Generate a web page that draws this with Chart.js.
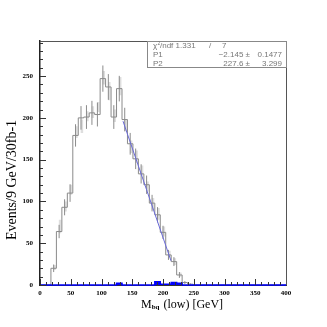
<!DOCTYPE html>
<html>
<head>
<meta charset="utf-8">
<script src="https://cdn.jsdelivr.net/npm/chart.js@4.4.0/dist/chart.umd.min.js"></script>
<style>
  html, body { margin: 0; padding: 0; background: #fff; }
</style>
</head>
<body>
<canvas id="myChart" width="327" height="327"></canvas>
<script>
// 45 bins of 400/45 GeV between 0 and 400
const binWidth = 400 / 45;

// events per bin, gray histogram
const events = [0, 0, 20, 64, 93, 110, 179, 200, 201, 206,
  204, 247, 237, 201, 235, 198, 169, 151, 133, 120,
  98, 84, 63, 36, 28, 12, 3, 1, 0, 0,
  0, 0, 0, 0, 0, 0, 0, 0, 0, 0,
  0, 0, 0, 0, 0];

// statistical error per bin
const errors = [0, 0, 4.5, 8, 9.6, 10.5, 13.4, 14.1, 14.2, 14.4,
  14.3, 15.7, 15.4, 14.2, 15.3, 14.1, 13, 12.3, 11.5, 11,
  9.9, 9.2, 7.9, 6, 5.3, 3.5, 1.7, 1, 0, 0,
  0, 0, 0, 0, 0, 0, 0, 0, 0, 0,
  0, 0, 0, 0, 0];

// light gray bands (second error set), low / high, bins 2..25
const bandLow = [18, 62, 88, 108, 176, 182, 196, 200, 207, 240, 221, 195, 227, 184, 158, 146, 131, 112, 90, 78, 58, 33, 24, 10];
const bandHigh = [24, 78, 100, 120, 190, 198, 208, 214, 219, 256, 243, 210, 249, 198, 173, 161, 143, 124, 104, 92, 70, 41, 32, 15];

// blue filled histogram
const signal = [0, 0, 0, 0, 0, 0, 0, 0, 0, 0,
  0, 0, 0, 0, 2, 0, 0, 0, 0, 0,
  0, 4, 1, 1, 3, 2, 0, 0, 0, 0,
  0, 0, 0, 0, 0, 0, 0, 0, 0, 0,
  0, 0, 0, 0, 0];

// straight line fit
const fitX = [135, 213];
const fitY = [196, 29];

const xTicks = [0, 50, 100, 150, 200, 250, 300, 350, 400];
const yTicks = [0, 50, 100, 150, 200, 250];

function stepPoints(values) {
  const pts = values.map((v, k) => ({ x: k * binWidth, y: v }));
  pts.push({ x: 400, y: values[values.length - 1] });
  return pts;
}

function barPoints(lows, highs, firstBin, shift) {
  const pts = [];
  lows.forEach((lo, i) => {
    const c = (firstBin + i + 0.5) * binWidth + shift;
    pts.push({ x: c, y: lo }, { x: c, y: highs[i] }, { x: c, y: null });
  });
  return pts;
}

const errLow = [];
const errHigh = [];
events.forEach((v, k) => {
  errLow.push(v - errors[k]);
  errHigh.push(v + errors[k]);
});
const firstErr = 2;
const lastErr = 27;

// inward tick marks, frame, stats box and titles
const axisTicks = {
  id: 'axisTicks',
  afterDatasetsDraw(chart) {
    const { ctx, chartArea: a, scales: { x, y } } = chart;
    ctx.save();
    ctx.strokeStyle = '#333';
    ctx.lineWidth = 1;
    ctx.beginPath();
    for (let v = 0; v <= 400; v += 10) {
      const px = Math.round(x.getPixelForValue(v)) + 0.5;
      const len = v % 50 === 0 ? 6 : 3;
      ctx.moveTo(px, a.bottom);
      ctx.lineTo(px, a.bottom - len);
    }
    for (let v = 0; v <= 290; v += 10) {
      const py = Math.round(y.getPixelForValue(v)) + 0.5;
      const len = v % 50 === 0 ? 6 : 3;
      ctx.moveTo(a.left, py);
      ctx.lineTo(a.left + len, py);
    }
    ctx.stroke();
    // frame
    ctx.strokeStyle = '#555';
    ctx.beginPath();
    ctx.moveTo(a.left, a.top + 0.5);
    ctx.lineTo(a.right + 0.5, a.top + 0.5);
    ctx.lineTo(a.right + 0.5, a.bottom);
    ctx.stroke();

    // stats box
    const bx = 147.5, by = a.top + 0.5, bw = a.right - 147, bh = 26;
    ctx.strokeStyle = '#888';
    ctx.strokeRect(bx, by, bw, bh);
    ctx.fillStyle = '#777';
    ctx.font = '8px "Liberation Sans"';
    ctx.textBaseline = 'middle';
    ctx.textAlign = 'left';
    ctx.fillText('\u03C7', 153, 46);
    ctx.font = '5px "Liberation Sans"';
    ctx.fillText('2', 157.5, 43.5);
    ctx.font = '8px "Liberation Sans"';
    ctx.fillText('/ndf 1.331', 160, 46);
    ctx.fillText('/', 209, 46);
    ctx.fillText('7', 222, 46);
    ctx.fillText('P1', 153, 55);
    ctx.fillText('P2', 153, 63.5);
    ctx.textAlign = 'right';
    ctx.fillText('\u22122.145 \u00B1', 250, 55);
    ctx.fillText('227.6 \u00B1', 250, 63.5);
    ctx.fillText('0.1477', 282, 55);
    ctx.fillText('3.299', 282, 63.5);

    // axis titles
    ctx.fillStyle = '#000';
    ctx.textAlign = 'left';
    ctx.textBaseline = 'alphabetic';
    const tx = 141, ty = 308;
    ctx.font = '12px "Liberation Serif"';
    ctx.fillText('M', tx, ty);
    let w = ctx.measureText('M').width;
    ctx.font = 'bold 7px "Liberation Serif"';
    ctx.fillText('bq', tx + w, ty + 1);
    w += ctx.measureText('bq').width + 1;
    ctx.font = '12px "Liberation Serif"';
    ctx.fillText(' (low) [GeV]', tx + w, ty);

    ctx.translate(12, 180);
    ctx.rotate(-Math.PI / 2);
    ctx.textAlign = 'center';
    ctx.textBaseline = 'middle';
    ctx.font = '14px "Liberation Serif"';
    ctx.fillText('Events/9 GeV/30fb-1', 0, 0);
    ctx.restore();
  }
};

const tickFont = { family: 'Liberation Serif', size: 7, weight: 'bold' };

const ctx = document.getElementById('myChart').getContext('2d');
const chart = new Chart(ctx, {
  type: 'line',
  data: {
    datasets: [
      {
        data: fitX.map((x, i) => ({ x, y: fitY[i] })),
        borderColor: '#6a6ad8',
        borderWidth: 1,
        pointRadius: 0
      },
      {
        data: stepPoints(signal),
        stepped: true,
        borderColor: '#0000ff',
        backgroundColor: '#0000ff',
        borderWidth: 1.5,
        fill: 'origin',
        pointRadius: 0,
        clip: false
      },
      {
        data: barPoints(errLow.slice(firstErr, lastErr + 1), errHigh.slice(firstErr, lastErr + 1), firstErr, 0),
        borderColor: '#8c8c8c',
        borderWidth: 1,
        pointRadius: 0,
        spanGaps: false
      },
      {
        data: stepPoints(events),
        stepped: true,
        borderColor: '#8a8a8a',
        borderWidth: 1,
        pointRadius: 0
      },
      {
        data: barPoints(bandLow, bandHigh, 2, 1.5),
        borderColor: '#dedede',
        borderWidth: 2.5,
        pointRadius: 0,
        spanGaps: false
      }
    ]
  },
  options: {
    responsive: false,
    devicePixelRatio: 1,
    animation: false,
    layout: { padding: { top: 41, right: 41, left: 0, bottom: 0 } },
    plugins: { legend: { display: false }, tooltip: { enabled: false } },
    scales: {
      x: {
        type: 'linear',
        min: 0,
        max: 400,
        offset: false,
        afterFit: s => { s.height = 42; },
        afterBuildTicks: s => { s.ticks = xTicks.map(v => ({ value: v })); },
        ticks: { font: tickFont, color: '#000', padding: 4, maxRotation: 0 },
        grid: { display: false, drawTicks: false },
        border: { color: '#333', width: 1 }
      },
      y: {
        min: 0,
        max: 292,
        afterFit: s => { s.width = 40; },
        afterBuildTicks: s => { s.ticks = yTicks.map(v => ({ value: v })); },
        ticks: { font: tickFont, color: '#000', padding: 7 },
        grid: { display: false, drawTicks: false },
        border: { color: '#222', width: 1.5 }
      }
    }
  },
  plugins: [axisTicks]
});
</script>
</body>
</html>
